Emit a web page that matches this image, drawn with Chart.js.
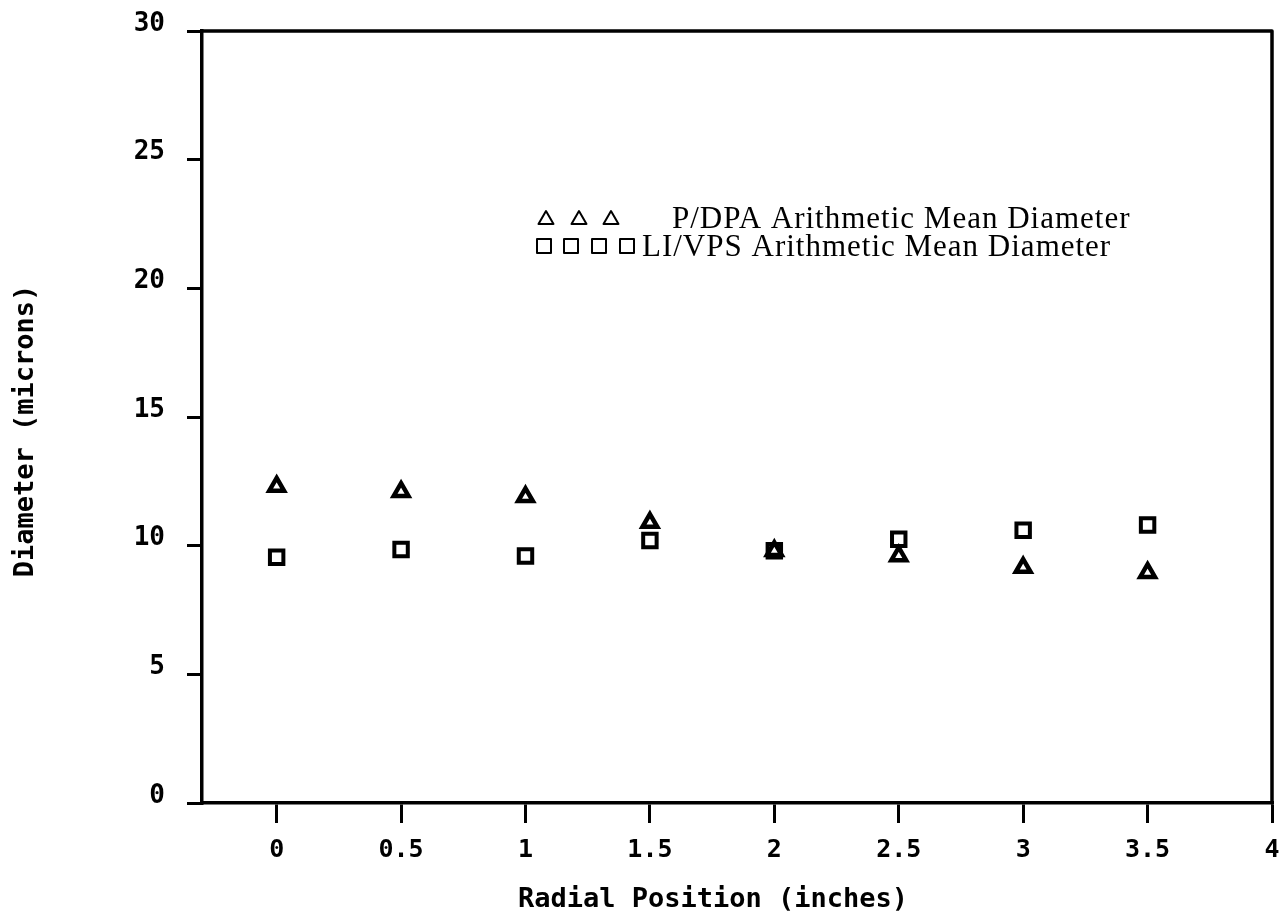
<!DOCTYPE html>
<html>
<head>
<meta charset="utf-8">
<script src="https://cdn.jsdelivr.net/npm/chart.js@4.4.1/dist/chart.umd.min.js"></script>
<style>
  html, body { margin: 0; padding: 0; background: #fff; }
  #wrap { width: 1287px; height: 918px; position: relative; }
</style>
</head>
<body>
<div id="wrap"><canvas id="diameterChart"></canvas></div>
<script>
// values
var radialPositions = [0, 0.5, 1, 1.5, 2, 2.5, 3, 3.5];
var pdpaDiameter = [12.3, 12.1, 11.9, 10.9, 9.8, 9.6, 9.15, 8.95];
var livpsDiameter = [9.55, 9.85, 9.6, 10.2, 9.8, 10.25, 10.6, 10.8];
var xTickValues = [0, 0.5, 1, 1.5, 2, 2.5, 3, 3.5, 4];
var yTickValues = [0, 5, 10, 15, 20, 25, 30];
var legendLabels = ['P/DPA Arithmetic Mean Diameter', 'LI/VPS Arithmetic Mean Diameter'];
var xTitle = 'Radial Position (inches)';
var yTitle = 'Diameter (microns)';

var plotFont = 'DejaVu Sans Mono';

function toPoints(ys) {
    return radialPositions.map(function(x, i) { return { x: x, y: ys[i] }; });
}

// frame, in-plot legend and axis titles
var decorPlugin = {
    id: 'decor',
    afterDraw: function(chart) {
        var ctx = chart.ctx;
        var a = chart.chartArea;
        ctx.save();
        ctx.strokeStyle = '#000';
        ctx.fillStyle = '#000';
        ctx.lineCap = 'round';
        ctx.lineJoin = 'round';

        ctx.lineWidth = 3.5;
        ctx.beginPath();
        ctx.moveTo(a.left, a.top);
        ctx.lineTo(a.right, a.top);
        ctx.lineTo(a.right, a.bottom);
        ctx.stroke();

        // legend symbols
        ctx.lineWidth = 2;
        [546, 579, 611].forEach(function(cx) {
            var cy = 218;
            ctx.beginPath();
            ctx.moveTo(cx, cy - 7);
            ctx.lineTo(cx + 7.5, cy + 6);
            ctx.lineTo(cx - 7.5, cy + 6);
            ctx.closePath();
            ctx.stroke();
        });
        [544, 571, 599, 627].forEach(function(cx) {
            ctx.strokeRect(cx - 7, 246 - 7, 14, 14);
        });

        ctx.font = '31px "Liberation Serif"';
        ctx.letterSpacing = '1px';
        ctx.textAlign = 'left';
        ctx.textBaseline = 'alphabetic';
        ctx.fillText(legendLabels[0], 672, 228);
        ctx.fillText(legendLabels[1], 642, 256);
        ctx.letterSpacing = '0px';

        // axis titles
        ctx.font = 'bold 27px "' + plotFont + '"';
        ctx.textAlign = 'center';
        ctx.fillText(xTitle, 713, 907);

        ctx.translate(33, 431);
        ctx.rotate(-Math.PI / 2);
        ctx.fillText(yTitle, 0, 0);
        ctx.restore();
    }
};

var ctx = document.getElementById('diameterChart').getContext('2d');
var diameterChart = new Chart(ctx, {
    type: 'scatter',
    data: {
        datasets: [{
            label: legendLabels[0],
            data: toPoints(pdpaDiameter),
            pointStyle: 'triangle',
            pointRadius: 8.5,
            pointBorderWidth: 4.5,
            borderColor: '#000',
            backgroundColor: 'rgba(0,0,0,0)'
        }, {
            label: legendLabels[1],
            data: toPoints(livpsDiameter),
            pointStyle: 'rect',
            pointRadius: 9.5,
            pointBorderWidth: 4,
            borderColor: '#000',
            backgroundColor: 'rgba(0,0,0,0)'
        }]
    },
    options: {
        responsive: true,
        maintainAspectRatio: false,
        animation: false,
        layout: { padding: { top: 31, right: 15, left: 0, bottom: 0 } },
        plugins: {
            legend: { display: false },
            tooltip: { enabled: false }
        },
        scales: {
            x: {
                type: 'linear',
                min: -0.3,
                max: 4,
                afterBuildTicks: function(scale) {
                    scale.ticks = xTickValues.map(function(v) { return { value: v }; });
                },
                afterFit: function(scale) {
                    scale.height = 115;
                    scale.paddingLeft = 0;
                    scale.paddingRight = 0;
                },
                border: { color: '#000', width: 3.5 },
                grid: { drawOnChartArea: false, drawTicks: true, tickLength: 20, color: '#000', lineWidth: 3 },
                ticks: {
                    color: '#000',
                    padding: 12,
                    maxRotation: 0,
                    font: { family: plotFont, weight: 'bold', size: 25 },
                    callback: function(v) { return String(v); }
                }
            },
            y: {
                min: 0,
                max: 30,
                afterBuildTicks: function(scale) {
                    scale.ticks = yTickValues.map(function(v) { return { value: v }; });
                },
                afterFit: function(scale) {
                    scale.width = 202;
                    scale.paddingTop = 0;
                    scale.paddingBottom = 0;
                },
                border: { color: '#000', width: 3.5 },
                grid: { drawOnChartArea: false, drawTicks: true, tickLength: 15, color: '#000', lineWidth: 3 },
                ticks: {
                    color: '#000',
                    padding: 22,
                    labelOffset: -7,
                    font: { family: plotFont, weight: 'bold', size: 26 },
                    callback: function(v) { return String(v); }
                }
            }
        }
    },
    plugins: [decorPlugin]
});
</script>
</body>
</html>
